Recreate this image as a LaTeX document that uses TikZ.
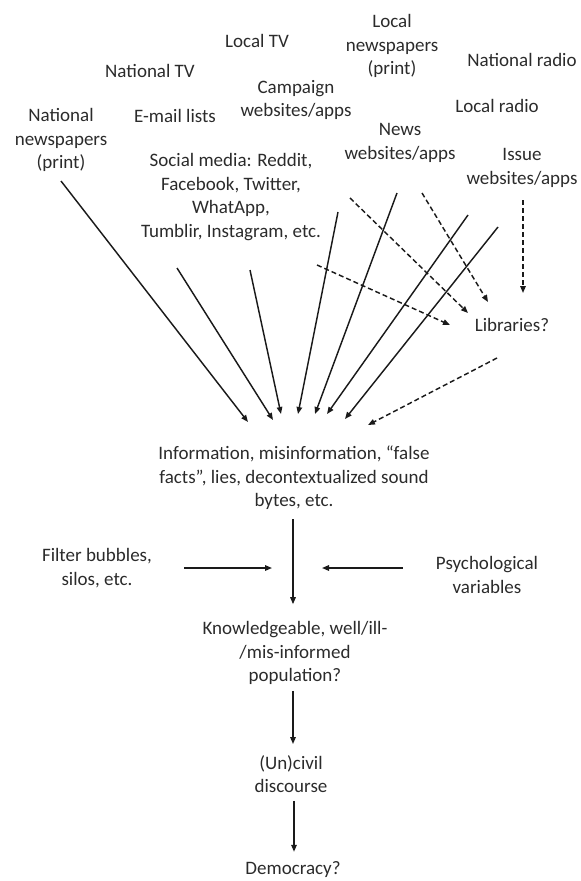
\documentclass[tikz,border=0pt]{standalone}
\usepackage{fontspec}
\setmainfont{Carlito}
\usepackage{tikz}
\usetikzlibrary{arrows.meta,positioning,calc}
\definecolor{Ink}{HTML}{1A1A1A}
\definecolor{Label}{HTML}{2B2B2B}
\tikzset{
  lbl/.style={align=center,inner sep=0pt,text=Label,font=\fontsize{19}{23.5}\selectfont},
  arr/.style={draw=Ink,line width=1.45pt,-{Triangle[length=7pt,width=5.5pt]}},
  darr/.style={arr,dash pattern=on 5pt off 3pt},
}

\begin{document}
\begin{tikzpicture}[x=1pt,y=-1pt]
        \useasboundingbox (0,0) rectangle (581,881);
        % media sources
        \node[lbl] (natnews) at (61,140) {National\\newspapers\\(print)};
        \node[lbl] (nattv) at (150,71) {National TV};
        \node[lbl] (localtv) at (257,41) {Local TV};
        \node[lbl] (email) at (175,116) {E-mail lists};
        \node[lbl] (campaign) at (296,100) {Campaign\\websites/apps};
        \node[lbl] (localnews) at (392,46) {Local\\newspapers\\(print)};
        \node[lbl] (natradio) at (522,60) {National radio};
        \node[lbl] (localradio) at (497,106) {Local radio};
        \node[lbl] (newsweb) at (400,143) {News\\websites/apps};
        \node[lbl] (issueweb) at (522,168) {Issue\\websites/apps};
        \node[lbl] (social) at (231,197) {Social media: Reddit,\\Facebook, Twitter,\\WhatApp,\\Tumblir, Instagram, etc.};
        \node[lbl] (libraries) at (512,325) {Libraries?};
        % chain down to democracy
        \node[lbl] (info) at (294,478) {Information, misinformation, “false\\facts”, lies, decontextualized sound\\bytes, etc.};
        \node[lbl] (filter) at (97,568) {Filter bubbles,\\silos, etc.};
        \node[lbl] (psych) at (487,575) {Psychological\\variables};
        \node[lbl] (know) at (295,653) {Knowledgeable, well/ill-\\/mis-informed\\population?};
        \node[lbl] (uncivil) at (291,774) {(Un)civil\\discourse};
        \node[lbl] (democracy) at (293,870) {Democracy?};
        % arrow ends
        \foreach \n/\x/\y in {s1/61/181,s2/177/268,s3/250/270,s4/338/212,s5/397/193,s6/468/215,s7/498/227,
          e1/248/422,e2/273/420,e3/281/414,e4/298/414,e5/315/414,e6/327/414,e7/345/419,
          l0/497/358,e8/368/425,d1/317/265,f1/450/325,d2/350/198,f2/468/313,d3/422/193,f3/488/302,d4/523/200,f4/523/293,
          fj/272/568,pj/322/568}
          \coordinate (\n) at (\x,\y);
        \foreach \a/\b in {s1/e1,s2/e2,s3/e3,s4/e4,s5/e5,s6/e6,s7/e7}
          \draw[arr] (\a) -- (\b);
        \foreach \a/\b in {l0/e8,d1/f1,d2/f2,d3/f3,d4/f4}
          \draw[darr] (\a) -- (\b);
        \draw[arr,shorten <=9pt,shorten >=17pt] (info.south -| 293,0) -- (know.north -| 293,0);
        \draw[arr,shorten <=32pt] (filter.east) -- (fj);
        \draw[arr,shorten <=33pt] (psych.west |- pj) -- (pj);
        \draw[arr,shorten <=6pt,shorten >=11pt] (know.south -| 293,0) -- (uncivil.north -| 293,0);
        \draw[arr,shorten <=8pt,shorten >=10pt] (uncivil.south -| 294,0) -- (democracy.north -| 294,0);
      \end{tikzpicture}
\end{document}
